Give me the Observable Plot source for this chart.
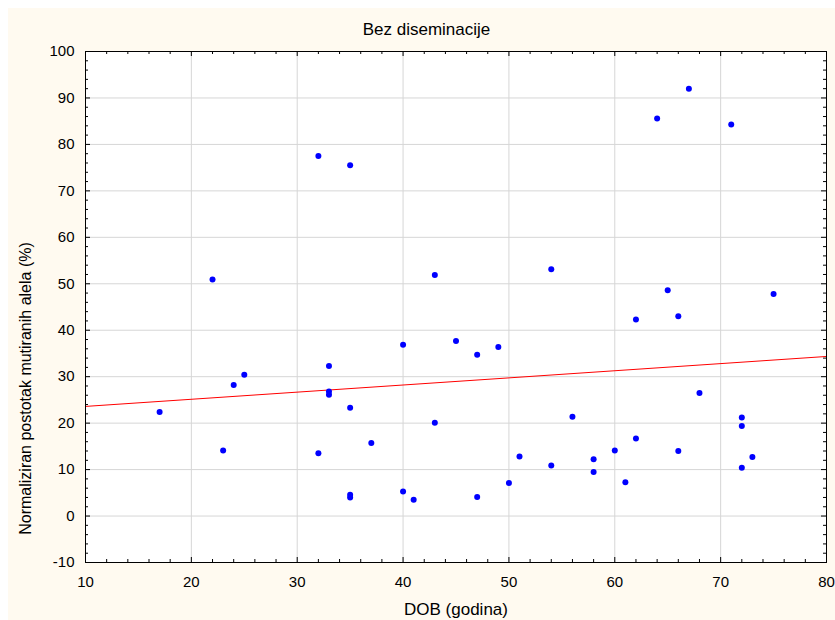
<!DOCTYPE html>
<html>
<head>
<meta charset="utf-8">
<script src="https://cdn.jsdelivr.net/npm/d3@7"></script>
<script src="https://cdn.jsdelivr.net/npm/@observablehq/plot@0.6"></script>
<style>
  html, body { margin: 0; padding: 0; background: #ffffff; overflow: hidden; }
  body { padding: 8px 0 0 8px; }
  #chart svg { display: block; background: #fffaf0; }
</style>
</head>
<body>
<div id="chart"></div>
<script>
const title = "Bez diseminacije";
const xLabel = "DOB (godina)";
const yLabel = "Normaliziran postotak mutiranih alela (%)";

const age = [17, 22, 23, 24, 25, 32, 32, 33, 33, 33, 35, 35, 35, 35, 37, 40, 40, 41, 43, 43,
             45, 47, 47, 49, 50, 51, 54, 54, 56, 58, 58, 60, 61, 62, 62, 64, 65, 66, 66, 67,
             68, 71, 72, 72, 72, 73, 75];
const pct = [22.4, 50.9, 14.1, 28.2, 30.4, 77.5, 13.5, 32.3, 26.8, 26.1, 75.5, 23.3, 4.6, 4.0, 15.7, 36.9, 5.3, 3.5, 51.9, 20.1,
             37.7, 34.7, 4.1, 36.4, 7.1, 12.8, 53.1, 10.9, 21.4, 12.2, 9.5, 14.1, 7.3, 42.3, 16.7, 85.6, 48.6, 43.0, 14.0, 92.0,
             26.5, 84.3, 21.2, 19.4, 10.4, 12.7, 47.8];

const fitX = [10, 80];
const fitY = [23.6, 34.35];

const xTicks = [10, 20, 30, 40, 50, 60, 70, 80];
const yTicks = [-10, 0, 10, 20, 30, 40, 50, 60, 70, 80, 90, 100];

const points = age.map((a, i) => ({age: a, pct: pct[i]}));
const fit = fitX.map((x, i) => ({x, y: fitY[i]}));
const xMinor = d3.range(10, 81, 2).filter(v => v % 10 !== 0);
const yMinor = d3.range(-10, 101, 2).filter(v => v % 10 !== 0);

const W = 827, H = 612;
const mL = 77, mR = 9, mT = 43, mB = 58;
const fw = W - mL - mR, fh = H - mT - mB;
const font = "Liberation Sans, Arial, sans-serif";

const chart = Plot.plot({
  width: W,
  height: H,
  marginLeft: mL,
  marginRight: mR,
  marginTop: mT,
  marginBottom: mB,
  style: {fontFamily: font, fontSize: "15px", color: "#000", background: "#fffaf0"},
  x: {domain: [10, 80], label: null},
  y: {domain: [-10, 100], label: null},
  marks: [
    Plot.frame({fill: "white", stroke: "none"}),
    Plot.gridX(xTicks, {stroke: "#d6d6d6", strokeOpacity: 1, strokeWidth: 1}),
    Plot.gridY(yTicks, {stroke: "#d6d6d6", strokeOpacity: 1, strokeWidth: 1}),
    Plot.tickX(xMinor, {x: d => d, insetTop: fh - 3, stroke: "#000", strokeWidth: 1}),
    Plot.tickX(xMinor, {x: d => d, insetBottom: fh - 3, stroke: "#000", strokeWidth: 1}),
    Plot.tickY(yMinor, {y: d => d, insetRight: fw - 3, stroke: "#000", strokeWidth: 1}),
    Plot.tickY(yMinor, {y: d => d, insetLeft: fw - 3, stroke: "#000", strokeWidth: 1}),
    Plot.tickX(xTicks, {x: d => d, insetTop: fh - 5, stroke: "#000", strokeWidth: 1}),
    Plot.tickX(xTicks, {x: d => d, insetBottom: fh - 5, stroke: "#000", strokeWidth: 1}),
    Plot.tickY(yTicks, {y: d => d, insetRight: fw - 5, stroke: "#000", strokeWidth: 1}),
    Plot.tickY(yTicks, {y: d => d, insetLeft: fw - 5, stroke: "#000", strokeWidth: 1}),
    Plot.axisX(xTicks, {tickSize: 0, tickPadding: 14, fontSize: 15, label: null, tickFormat: d => String(d)}),
    Plot.axisY(yTicks, {tickSize: 0, tickPadding: 11, fontSize: 15, label: null, tickFormat: d => String(d)}),
    Plot.line(fit, {x: "x", y: "y", stroke: "#ff0000", strokeWidth: 1}),
    Plot.dot(points, {x: "age", y: "pct", r: 3, fill: "#0000ff", stroke: "none"}),
    Plot.frame({stroke: "#000", strokeWidth: 1}),
    Plot.text([title], {frameAnchor: "top", text: d => d, dx: -29.5, dy: -22, textAnchor: "middle", lineAnchor: "middle", fontSize: 17, fill: "#000"}),
    Plot.text([xLabel], {frameAnchor: "bottom", text: d => d, dx: 0, dy: 47, textAnchor: "middle", lineAnchor: "middle", fontSize: 17, fill: "#000"}),
    Plot.text([yLabel], {frameAnchor: "left", text: d => d, rotate: -90, dx: -60, dy: 81.5, textAnchor: "middle", lineAnchor: "middle", fontSize: 16, fill: "#000"})
  ]
});
document.getElementById("chart").appendChild(chart);
</script>
</body>
</html>
